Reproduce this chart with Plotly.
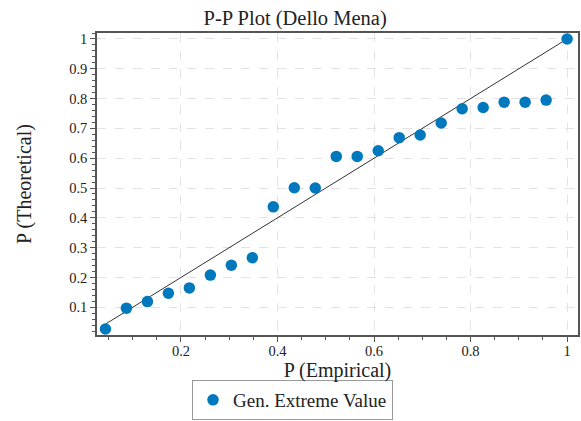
import plotly.graph_objects as go

# Data
p_empirical = [i / 23 for i in range(1, 24)]
p_theoretical = [0.027, 0.097, 0.119, 0.147, 0.165, 0.208, 0.241, 0.266, 0.437,
                 0.501, 0.500, 0.606, 0.606, 0.625, 0.669, 0.678, 0.718, 0.766,
                 0.770, 0.788, 0.788, 0.795, 1.000]
ref_line_x = [p_empirical[0], 1.0]
ref_line_y = [p_empirical[0], 1.0]

x_ticks = [0.2, 0.4, 0.6, 0.8, 1.0]
x_tick_labels = ["0.2", "0.4", "0.6", "0.8", "1"]
y_ticks = [0.1, 0.2, 0.3, 0.4, 0.5, 0.6, 0.7, 0.8, 0.9, 1.0]
y_tick_labels = ["0.1", "0.2", "0.3", "0.4", "0.5", "0.6", "0.7", "0.8", "0.9", "1"]

SERIF = "Liberation Serif"

fig = go.Figure()
fig.add_trace(go.Scatter(x=ref_line_x, y=ref_line_y, mode="lines",
                         line=dict(color="#333333", width=1), showlegend=False,
                         hoverinfo="skip"))
fig.add_trace(go.Scatter(x=p_empirical, y=p_theoretical, mode="markers",
                         name="Gen. Extreme Value",
                         marker=dict(color="#0078BE", size=11.5, symbol="circle",
                                     line=dict(width=0))))

axis_common = dict(
    showline=True, linecolor="#555555", linewidth=1.5, mirror=True,
    ticks="outside", ticklen=5, tickcolor="#555555", tickwidth=1,
    showgrid=True, gridcolor="#e3e3e3", griddash="dash", gridwidth=1,
    zeroline=False, automargin=False,
    tickfont=dict(family=SERIF, size=14.5, color="#222222"),
    title_font=dict(family=SERIF, size=20, color="#222222"),
)

fig.update_layout(
    width=581, height=421,
    font=dict(family=SERIF, color="#222222"),
    margin=dict(l=97, r=3, t=33, b=86, autoexpand=False),
    paper_bgcolor="white", plot_bgcolor="white",
    title=dict(text="P-P Plot (Dello Mena)", x=0.508, xref="container",
               xanchor="center", y=1 - 18 / 421, yref="container", yanchor="middle",
               font=dict(family=SERIF, size=20.5, color="#222222")),
    xaxis=dict(range=[0.026, 1.0226], tickvals=x_ticks, ticktext=x_tick_labels,
               title=dict(text="P (Empirical)", standoff=1),
               ticklabelstandoff=-3,
               minor=dict(dtick=0.05, tick0=0, ticks="outside", ticklen=3,
                          tickcolor="#555555", showgrid=False),
               **axis_common),
    yaxis=dict(range=[0.007, 1.02], tickvals=y_ticks, ticktext=y_tick_labels,
               title=dict(text="P (Theoretical)", standoff=32),
               minor=dict(dtick=0.02, tick0=0, ticks="outside", ticklen=3,
                          tickcolor="#555555", showgrid=False),
               **axis_common),
    legend=dict(x=(192 - 97) / 481, y=(335 - 420) / 302, xanchor="left", yanchor="bottom",
                orientation="h", bordercolor="#999999", borderwidth=1,
                font=dict(family=SERIF, size=19, color="#222222"),
                itemwidth=30),
)

fig.write_html("out.html")
